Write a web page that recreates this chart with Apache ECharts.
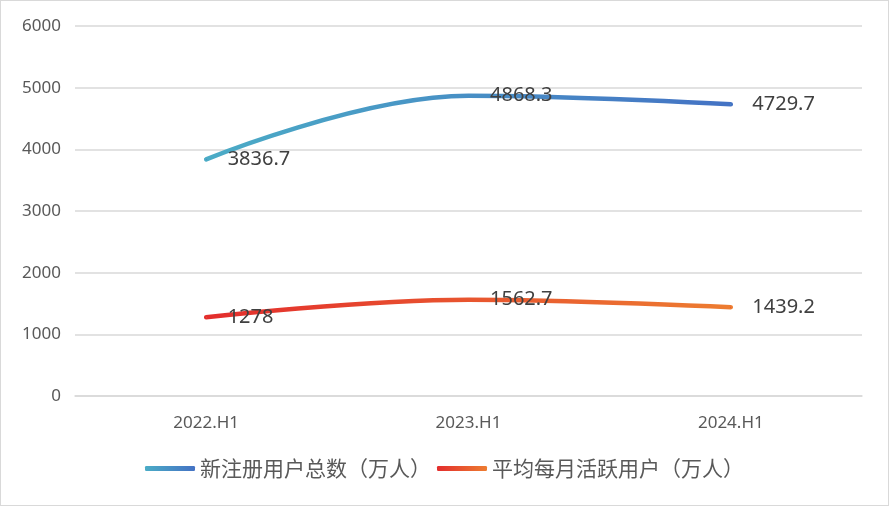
<!DOCTYPE html>
<html>
<head>
<meta charset="utf-8">
<script src="https://cdn.jsdelivr.net/npm/echarts@6/dist/echarts.min.js"></script>
<style>
html,body{margin:0;padding:0;background:#fff;}
#c{width:887px;height:504px;border:1px solid #d9d9d9;}
</style>
</head>
<body>
<div id="c"></div>
<script>
var categories = ['2022.H1', '2023.H1', '2024.H1'];
var seriesNames = ['新注册用户总数（万人）', '平均每月活跃用户（万人）'];
var newUsers = [3836.7, 4868.3, 4729.7];
var activeUsers = [1278, 1562.7, 1439.2];
var yTicks = {min: 0, max: 6000, interval: 1000};

function grad(a, b) {
  return new echarts.graphic.LinearGradient(0, 0, 1, 0, [{offset: 0, color: a}, {offset: 1, color: b}]);
}
var blue = grad('#4bacc6', '#4472c4');
var red = grad('#e32d2d', '#ed7d31');

var chart = echarts.init(document.getElementById('c'));
var labelStyle = {show: true, position: 'right', distance: 21, color: '#404040', fontSize: 20, fontFamily: 'Noto Sans'};
chart.setOption({
  animation: false,
  grid: {left: 74, right: 26, top: 25, bottom: 109, containLabel: false},
  legend: {
    bottom: 21, left: 'center', itemWidth: 50, itemHeight: 5, itemGap: 6,
    icon: 'roundRect',
    textStyle: {fontFamily: 'Noto Sans CJK SC', fontSize: 21, color: '#595959'},
    data: seriesNames
  },
  xAxis: {
    type: 'category', data: categories, boundaryGap: true,
    axisLine: {lineStyle: {color: '#d9d9d9', width: 1.5}},
    axisTick: {show: false},
    axisLabel: {color: '#595959', fontSize: 17, fontFamily: 'Noto Sans', margin: 19}
  },
  yAxis: {
    type: 'value', min: yTicks.min, max: yTicks.max, interval: yTicks.interval,
    axisLine: {show: false}, axisTick: {show: false},
    splitLine: {lineStyle: {color: '#d9d9d9', width: 1.5}},
    axisLabel: {color: '#595959', fontSize: 17, fontFamily: 'Noto Sans', margin: 14,
      formatter: function (v) { return String(v); }}
  },
  series: [
    {name: seriesNames[0], type: 'line', data: newUsers, smooth: 0.4,
     symbol: 'circle', symbolSize: 1,
     itemStyle: {color: blue}, lineStyle: {color: blue, width: 4.5, cap: 'round'},
     label: labelStyle},
    {name: seriesNames[1], type: 'line', data: activeUsers, smooth: 0.4,
     symbol: 'circle', symbolSize: 1,
     itemStyle: {color: red}, lineStyle: {color: red, width: 4.5, cap: 'round'},
     label: labelStyle}
  ]
});
</script>
</body>
</html>
